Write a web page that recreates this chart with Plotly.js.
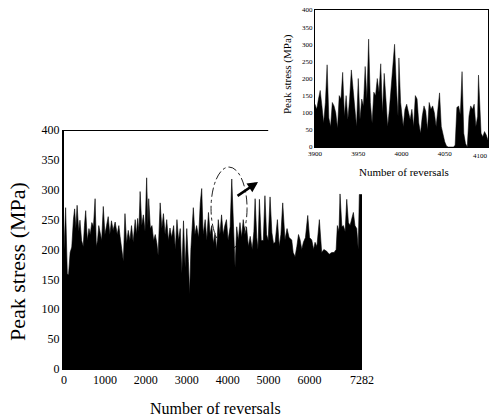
<!DOCTYPE html>
<html>
<head>
<meta charset="utf-8">
<script src="https://cdn.plot.ly/plotly-3.0.1.min.js"></script>
<style>html,body{margin:0;padding:0;background:#fff;}#chart{width:491px;height:420px;}</style>
</head>
<body>
<div id="chart"></div>
<script>
// Main chart: number of reversals vs peak stress (MPa)
const mainReversals = [0,40,80,110,150,190,230,260,290,320,360,390,430,470,500,530,570,610,640,680,720,760,790,820,850,880,920,960,1000,1040,1080,1120,1160,1200,1250,1300,1340,1370,1410,1450,1490,1530,1570,1610,1650,1690,1740,1770,1800,1830,1860,1900,1940,1980,2020,2050,2070,2110,2150,2190,2230,2270,2300,2350,2390,2430,2470,2510,2550,2590,2630,2680,2720,2760,2800,2840,2880,2920,2960,3000,3040,3070,3100,3160,3200,3240,3290,3330,3365,3400,3450,3490,3530,3570,3610,3650,3690,3730,3770,3810,3850,3890,3930,3970,4010,4060,4100,4140,4180,4220,4260,4300,4340,4380,4420,4460,4505,4550,4600,4640,4670,4710,4740,4775,4820,4870,4910,4950,4990,5035,5080,5120,5160,5215,5260,5300,5345,5400,5450,5500,5565,5600,5646,5690,5730,5770,5810,5850,5900,5956,6000,6054,6100,6134,6180,6240,6270,6297,6350,6420,6480,6543,6600,6650,6680,6720,6745,6790,6826,6870,6909,6950,6990,7030,7071,7110,7153,7190,7217,7282];
const mainPeakStress = [200,270,160,157,195,204,250,268,235,274,230,249,215,205,240,265,215,235,225,245,238,285,205,215,240,230,215,272,225,240,255,225,248,232,246,225,240,222,200,180,260,210,232,215,240,212,250,225,252,230,297,240,258,230,320,240,285,235,240,215,225,210,190,278,235,260,225,250,215,236,220,240,200,250,215,235,160,248,170,235,180,125,200,270,225,240,220,278,302,225,250,215,262,225,240,210,228,200,250,225,258,225,240,250,215,238,318,230,170,238,215,245,220,250,225,238,205,222,200,230,285,220,200,284,215,215,290,225,215,288,228,210,212,250,205,225,278,216,235,220,216,195,188,205,225,216,200,212,220,257,220,216,200,212,205,250,215,195,200,197,192,195,195,200,240,230,293,238,240,230,284,245,240,250,262,240,235,200,292,292];
const mainXTickVals = [0,1000,2000,3000,4000,5000,6000,7282];
const mainXTickText = ['0','1000','2000','3000','4000','5000','6000','7282'];

// Inset: zoom on reversals 3900-4100
const insetReversals = [3900,3902,3904,3906,3908,3910,3912,3914,3916,3918,3920,3922,3924,3926,3928,3930,3932,3934,3936,3938,3940,3942,3944,3946,3948,3950,3952,3954,3956,3958,3960,3962,3964,3966,3968,3970,3972,3974,3976,3978,3980,3982,3984,3986,3988,3990,3992,3994,3996,3997,3999,4002,4004,4006,4008,4010,4012,4014,4016,4018,4020,4022,4024,4026,4028,4030,4032,4034,4036,4038,4040,4042,4044,4046,4048,4050,4052,4054,4056,4058,4060,4062,4064,4066,4068,4070,4072,4074,4076,4078,4080,4082,4084,4086,4088,4089,4090,4092,4094,4096,4098,4100];
const insetPeakStress = [125,110,140,165,120,70,130,240,85,60,130,120,100,55,150,140,218,90,150,80,140,225,170,110,60,200,80,140,120,235,140,315,130,70,160,150,200,160,243,100,215,140,60,110,170,220,300,180,90,260,130,60,110,125,100,80,110,60,150,140,70,40,90,120,105,50,130,110,120,100,60,110,158,60,35,15,3,0,0,0,0,5,115,120,95,220,40,10,0,90,120,110,125,60,90,210,150,40,30,45,35,20];
const insetXTickVals = [3900,3950,4000,4050];
const insetLastTick = '4100';

const W = 491, H = 420;
const px = v => v / W;
const py = v => 1 - v / H;
const serif = 'Liberation Serif, Times New Roman, serif';

const traces = [
  {x: mainReversals, y: mainPeakStress, type: 'scatter', mode: 'lines',
   line: {color: '#000', width: 0.6}, fill: 'tozeroy', fillcolor: '#000',
   xaxis: 'x', yaxis: 'y', hoverinfo: 'skip', showlegend: false},
  {x: insetReversals, y: insetPeakStress, type: 'scatter', mode: 'lines',
   line: {color: '#000', width: 0.5}, fill: 'tozeroy', fillcolor: '#000',
   xaxis: 'x2', yaxis: 'y2', hoverinfo: 'skip', showlegend: false}
];

const layout = {
  width: W, height: H,
  margin: {l: 0, r: 0, t: 0, b: 0},
  paper_bgcolor: '#fff', plot_bgcolor: 'rgba(0,0,0,0)',
  showlegend: false,
  font: {family: serif, color: '#000'},
  xaxis: {domain: [px(64), px(362)], range: [0, 7282], anchor: 'y',
    tickvals: mainXTickVals, ticktext: mainXTickText,
    showline: true, linecolor: '#000', linewidth: 1, showgrid: false, zeroline: false,
    ticks: '', tickfont: {family: serif, size: 12, color: '#000'}},
  yaxis: {domain: [py(369), py(130)], range: [0, 400], anchor: 'x', dtick: 50,
    showline: true, linecolor: '#000', linewidth: 2, showgrid: false, zeroline: false,
    ticks: '', tickfont: {family: serif, size: 12, color: '#000'}},
  xaxis2: {domain: [px(315), px(488)], range: [3900, 4100], anchor: 'y2',
    tickvals: insetXTickVals,
    showline: true, mirror: true, linecolor: '#000', linewidth: 1, showgrid: false, zeroline: false,
    ticks: '', tickfont: {family: serif, size: 7, color: '#000'}},
  yaxis2: {domain: [py(147), py(10)], range: [0, 400], anchor: 'x2', dtick: 50,
    showline: true, mirror: true, linecolor: '#000', linewidth: 1, showgrid: false, zeroline: false,
    ticks: '', tickfont: {family: serif, size: 7, color: '#000'}},
  shapes: [
    {type: 'line', xref: 'x', yref: 'y', x0: 0, x1: 4990, y0: 400, y1: 400,
     line: {color: '#000', width: 2}},
    {type: 'circle', xref: 'x', yref: 'y', x0: 3593, x1: 4473, y0: 200, y1: 338,
     line: {color: '#222', width: 1, dash: 'dashdot'}, layer: 'below'}
  ],
  annotations: [
    {x: 4741, y: 313, xref: 'x', yref: 'y', ax: 4204, ay: 288, axref: 'x', ayref: 'y',
     text: '', showarrow: true, arrowhead: 2, arrowsize: 0.8, arrowwidth: 2.6, arrowcolor: '#000'},
    {text: insetLastTick, xref: 'paper', yref: 'paper', x: px(490), y: py(156),
     xanchor: 'right', yanchor: 'middle', showarrow: false, font: {family: serif, size: 7}},
    {text: 'Number of reversals', xref: 'paper', yref: 'paper', x: px(215), y: py(408),
     xanchor: 'center', yanchor: 'middle', showarrow: false, font: {family: serif, size: 16}},
    {text: 'Peak stress (MPa)', xref: 'paper', yref: 'paper', x: px(17), y: py(262),
     xanchor: 'center', yanchor: 'middle', textangle: -90, showarrow: false, font: {family: serif, size: 22}},
    {text: 'Number of reversals', xref: 'paper', yref: 'paper', x: px(404), y: py(172),
     xanchor: 'center', yanchor: 'middle', showarrow: false, font: {family: serif, size: 11}},
    {text: 'Peak stress (MPa)', xref: 'paper', yref: 'paper', x: px(287), y: py(74),
     xanchor: 'center', yanchor: 'middle', textangle: -90, showarrow: false, font: {family: serif, size: 11}}
  ]
};

Plotly.newPlot('chart', traces, layout, {staticPlot: true, displayModeBar: false});
</script>
</body>
</html>
